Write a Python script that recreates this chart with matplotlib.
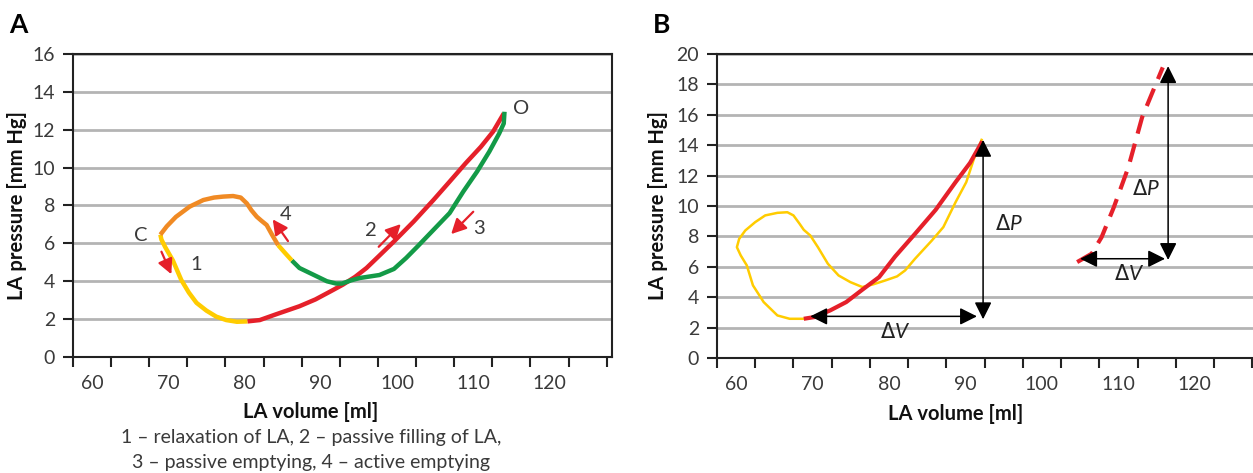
import numpy as np
import matplotlib
matplotlib.use('Agg')
from matplotlib import pyplot as plt

plt.rcParams['font.family'] = ['Lato', 'DejaVu Sans']
plt.rcParams['mathtext.fontset'] = 'custom'
plt.rcParams['mathtext.rm'] = 'DejaVu Sans'
plt.rcParams['mathtext.it'] = 'Lato:italic'

# -------------------------------------------------------------------------------
# data, panel A  (LA volume [ml], LA pressure [mm Hg])

a_relax_x = [68.96, 69.1, 69.6, 70.6, 71.7, 72.7, 73.7, 75.0, 76.3, 77.6, 79.0, 80.4]
a_relax_y = [6.46, 6.2, 5.8, 5.1, 4.07, 3.4, 2.86, 2.45, 2.13, 1.95, 1.86, 1.88]

a_fill_x = [80.4, 82.0, 84.1, 87.2, 89.3, 91.3, 92.9, 94.5, 96.0, 97.6, 99.6, 102.2,
            104.8, 106.9, 109.0, 111.0, 112.6, 114.0]
a_fill_y = [1.88, 1.95, 2.25, 2.68, 3.04, 3.47, 3.82, 4.23, 4.70, 5.32, 6.1, 7.16,
            8.3, 9.26, 10.23, 11.1, 11.9, 12.86]

a_pempt_x = [114.1, 114.0, 113.4, 112.1, 110.5, 108.7, 106.9, 104.8, 102.7, 101.2, 99.6,
             97.7, 95.1, 94.0, 92.8, 92.0, 90.8, 88.8, 87.2, 86.2]
a_pempt_y = [12.95, 12.33, 11.8, 10.84, 9.79, 8.74, 7.6, 6.72, 5.84, 5.23, 4.65,
             4.33, 4.17, 4.05, 3.88, 3.88, 4.0, 4.39, 4.7, 5.1]

a_mid_x = [86.2, 85.3, 84.4]
a_mid_y = [5.1, 5.5, 5.91]

a_act_x = [84.4, 83.6, 82.9, 82.2, 81.6, 80.9, 80.3, 79.5, 78.5, 77.2, 76.0, 74.6, 72.8, 71.0, 69.8, 68.96]
a_act_y = [5.91, 6.46, 6.97, 7.2, 7.41, 7.75, 8.11, 8.42, 8.5, 8.47, 8.42, 8.29, 7.94, 7.4, 6.9, 6.46]

# direction arrows (tail x, tail y, tip x, tip y)
a_arrows = [(69.1, 5.56, 70.4, 4.37),
            (85.7, 6.12, 83.7, 7.27),
            (97.6, 5.82, 100.5, 7.02),
            (110.0, 7.67, 107.1, 6.49)]
a_labels = ['C', '1', '4', '2', '3', 'O']
a_label_x = [66.4, 73.7, 85.4, 96.6, 110.8, 116.3]
a_label_y = [6.44, 4.86, 7.5, 6.7, 6.76, 13.13]

# -------------------------------------------------------------------------------
# data, panel B

b_loop_x = [68.85, 67.0, 65.4, 63.6, 62.2, 61.4, 60.6, 60.1, 60.4, 61.2, 62.5, 63.8, 65.4,
            66.7, 67.5, 68.3, 68.85, 69.7, 70.7, 72.0, 73.4, 74.95, 76.5, 77.9, 79.5,
            81.05, 82.1, 83.4, 85.6, 87.1, 88.7, 90.1, 91.1, 92.1]
b_loop_y = [2.58, 2.58, 2.80, 3.68, 4.78, 6.09, 6.75, 7.29, 7.84, 8.39, 8.94, 9.38, 9.55,
            9.59, 9.38, 8.83, 8.43, 8.06, 7.29, 6.2, 5.43, 4.99, 4.67, 4.84, 5.1,
            5.37, 5.76, 6.53, 7.73, 8.61, 10.25, 11.57, 13.1, 14.35]

b_red_x = [68.85, 70.2, 72.3, 74.4, 76.5, 78.7, 80.8, 83.4, 86.1, 88.7, 90.6, 92.2]
b_red_y = [2.58, 2.69, 3.13, 3.68, 4.49, 5.32, 6.68, 8.17, 9.75, 11.57, 12.84, 14.26]

b_dash_x = [104.6, 106.5, 107.8, 109.4, 111.3, 113.1, 115.8]
b_dash_y = [6.31, 6.86, 7.95, 9.92, 12.55, 15.84, 19.12]

# double arrows ((x0, y0), (x1, y1)) and their labels
b_arrows = [((92.3, 2.55), (92.3, 14.35)),
            ((69.7, 2.74), (91.5, 2.74)),
            ((116.5, 6.45), (116.5, 19.2)),
            ((105.0, 6.53), (116.1, 6.53))]
b_labels = [r'$\Delta P$', r'$\Delta V$', r'$\Delta P$', r'$\Delta V$']
b_label_x = [95.7, 80.8, 113.6, 111.4]
b_label_y = [8.83, 1.71, 11.13, 5.54]

# -------------------------------------------------------------------------------
# style

YELLOW = '#FFCC00'
ORANGE = '#F08A24'
RED = '#E5202A'
GREEN = '#139A47'
GRID = '#B4B4B4'
TXT = '#3a3a3a'


def setup_axes(ax, ymax, xmax):
    ax.set_xlim(57.5, xmax)
    ax.set_ylim(0, ymax)
    ax.set_yticks(np.arange(0, ymax + 1, 2))
    ax.set_xticks(np.arange(57.5, 128, 5))
    ax.set_xticklabels([])
    ax.set_xticks(np.arange(60, 121, 10), minor=True)
    ax.set_xticklabels([str(v) for v in range(60, 121, 10)], minor=True)
    ax.tick_params(axis='x', which='major', length=7, width=1.5, color='#222222')
    ax.tick_params(axis='x', which='minor', length=0, pad=13, labelsize=14, labelcolor=TXT)
    ax.tick_params(axis='y', length=7, width=1.5, color='#222222', pad=6,
                   labelsize=14, labelcolor=TXT)
    ax.grid(axis='y', color=GRID, linewidth=2)
    ax.set_axisbelow(True)
    for s in ax.spines.values():
        s.set_linewidth(1.5)
        s.set_color('#222222')
    ax.set_xlabel('LA volume [ml]', fontsize=14.5, fontweight='bold', color='#111111')
    ax.set_ylabel('LA pressure [mm Hg]', fontsize=14.5, fontweight='bold', color='#111111')


fig = plt.figure(figsize=(12.53, 4.73), dpi=100)
axA = fig.add_axes([73 / 1253, 116 / 473, 539 / 1253, 303 / 473])
axB = fig.add_axes([717 / 1253, 115 / 473, 536 / 1253, 304 / 473])

# -------------------------------------------------------------------------------
# panel A

setup_axes(axA, 16, 128.2)
axA.xaxis.set_label_coords(0.44, -0.15)
axA.yaxis.set_label_coords(-0.086, 0.5)

lw = 3.2
axA.plot(a_relax_x, a_relax_y, color=YELLOW, lw=lw, solid_capstyle='butt')
axA.plot(a_fill_x, a_fill_y, color=RED, lw=lw, solid_capstyle='butt')
axA.plot(a_pempt_x, a_pempt_y, color=GREEN, lw=lw, solid_capstyle='butt')
axA.plot(a_mid_x, a_mid_y, color=YELLOW, lw=lw, solid_capstyle='butt')
axA.plot(a_act_x, a_act_y, color=ORANGE, lw=lw, solid_capstyle='butt')

for x0, y0, x1, y1 in a_arrows:
    axA.annotate('', xy=(x1, y1), xytext=(x0, y0),
                 arrowprops=dict(arrowstyle='-|>,head_length=0.75,head_width=0.38',
                                 mutation_scale=12, color=RED, lw=1.6,
                                 shrinkA=0, shrinkB=0))

for t, x, y in zip(a_labels, a_label_x, a_label_y):
    axA.text(x, y, t, fontsize=14.5, color=TXT, ha='center', va='center')

fig.text(18 / 1253, 1 - 25 / 473, 'A', fontsize=19, fontweight='bold', ha='center', va='center')
fig.text(311 / 1253, 1 - 437 / 473, '1 – relaxation of LA, 2 – passive filling of LA,',
         fontsize=14, color=TXT, ha='center', va='center')
fig.text(311 / 1253, 1 - 462 / 473, '3 – passive emptying, 4 – active emptying',
         fontsize=14, color=TXT, ha='center', va='center')

# -------------------------------------------------------------------------------
# panel B

setup_axes(axB, 20, 127.6)
axB.spines['right'].set_visible(False)
axB.xaxis.set_label_coords(0.445, -0.15)
axB.yaxis.set_label_coords(-0.092, 0.5)

axB.plot(b_loop_x, b_loop_y, color=YELLOW, lw=1.8)
axB.plot(b_red_x, b_red_y, color=RED, lw=3, solid_capstyle='butt')
axB.plot(b_dash_x, b_dash_y, color=RED, lw=3, dashes=(4.5, 2.5))

for (x0, y0), (x1, y1) in b_arrows:
    axB.annotate('', xy=(x1, y1), xytext=(x0, y0),
                 arrowprops=dict(arrowstyle='<|-|>,head_length=0.8,head_width=0.4',
                                 mutation_scale=13, color='black', lw=1.1,
                                 shrinkA=0, shrinkB=0))

for t, x, y in zip(b_labels, b_label_x, b_label_y):
    axB.text(x, y, t, fontsize=15, color='#222222', ha='center', va='center')

fig.text(662 / 1253, 1 - 25 / 473, 'B', fontsize=19, fontweight='bold', ha='center', va='center')

fig.savefig('out.png', dpi=100)
